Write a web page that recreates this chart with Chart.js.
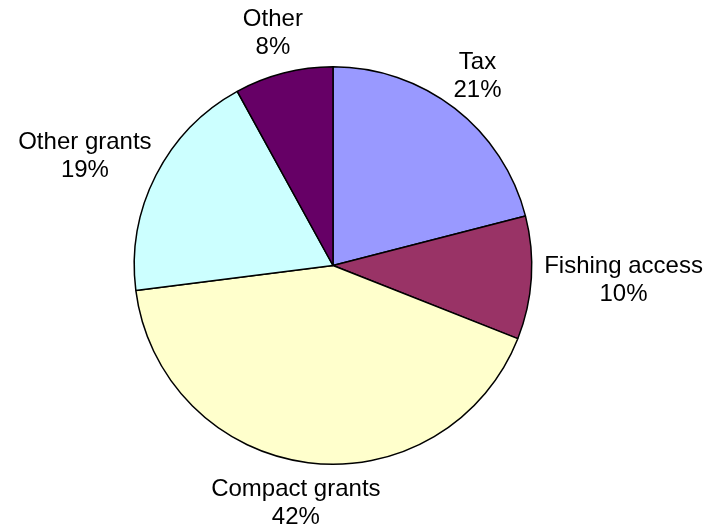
<!DOCTYPE html>
<html>
<head>
<meta charset="utf-8">
<script src="https://cdn.jsdelivr.net/npm/chart.js@4"></script>
<style>
  html, body { margin: 0; padding: 0; background: #fff; }
  #wrap { width: 704px; height: 527px; position: relative; }
</style>
</head>
<body>
<div id="wrap"><canvas id="pie"></canvas></div>
<script>
// Revenue sources, clockwise from 12 o'clock
const categories = ['Tax', 'Fishing access', 'Compact grants', 'Other grants', 'Other'];
const shares = [21, 10, 42, 19, 8];
const sliceColors = ['#9999FF', '#993366', '#FFFFCC', '#CCFFFF', '#660066'];

const LABEL_FONT = '24px "Liberation Sans", Arial, sans-serif';
const LINE_H = 28;
const LABEL_GAP = 13;

// Two-line "name / pct" labels placed just outside each slice
const outsideLabels = {
  id: 'outsideLabels',
  afterDatasetsDraw(chart) {
    const { ctx } = chart;
    const meta = chart.getDatasetMeta(0);
    const total = shares.reduce((a, b) => a + b, 0);
    ctx.save();
    ctx.font = LABEL_FONT;
    ctx.fillStyle = '#000';
    ctx.textAlign = 'center';
    ctx.textBaseline = 'middle';
    meta.data.forEach((arc, i) => {
      const p = arc.getProps(['x', 'y', 'startAngle', 'endAngle', 'outerRadius'], true);
      const mid = (p.startAngle + p.endAngle) / 2;
      const lines = [categories[i], Math.round(shares[i] / total * 100) + '%'];
      const w = Math.max(...lines.map(t => ctx.measureText(t).width));
      const h = LINE_H * lines.length;
      const r = p.outerRadius + LABEL_GAP;
      // push the text box outward by half its size along the slice direction
      const cx = p.x + Math.cos(mid) * (r + w / 2);
      const cy = p.y + Math.sin(mid) * (r + h / 2);
      lines.forEach((t, k) => {
        ctx.fillText(t, cx, cy - h / 2 + LINE_H * (k + 0.5));
      });
    });
    ctx.restore();
  }
};

new Chart(document.getElementById('pie'), {
  type: 'pie',
  data: {
    labels: categories,
    datasets: [{
      data: shares,
      backgroundColor: sliceColors,
      borderColor: '#000',
      borderWidth: 1.5
    }]
  },
  options: {
    responsive: true,
    maintainAspectRatio: false,
    animation: false,
    layout: { padding: { left: 133, right: 171, top: 66, bottom: 62 } },
    plugins: {
      legend: { display: false },
      tooltip: { enabled: false }
    }
  },
  plugins: [outsideLabels]
});
</script>
</body>
</html>
